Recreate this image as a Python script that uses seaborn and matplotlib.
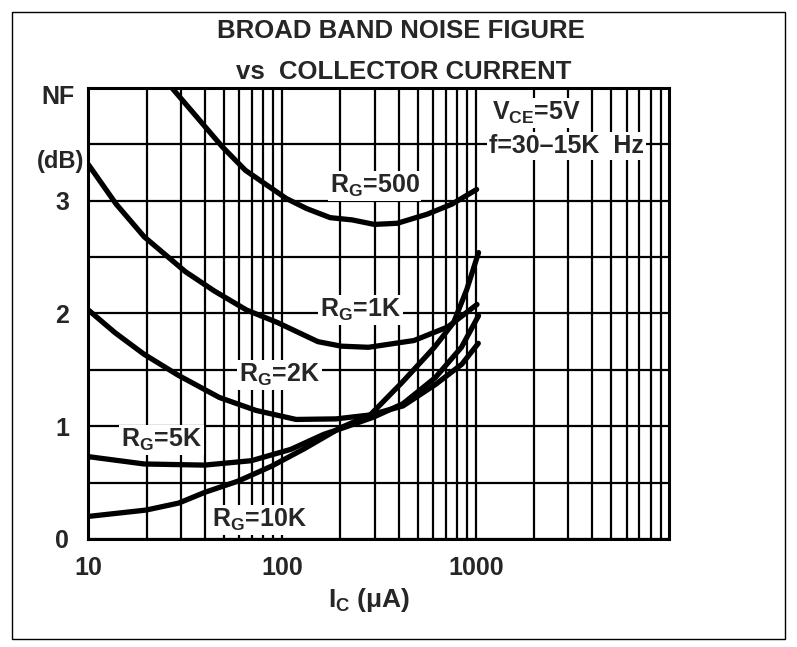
import numpy as np
import pandas as pd
import matplotlib.pyplot as plt
import seaborn as sns
from matplotlib.ticker import FixedLocator, LogLocator, MultipleLocator, NullFormatter
from matplotlib.patches import Rectangle

# Curve readings (collector current in uA, noise figure in dB)
ic_500 = [27, 49, 64.6, 105, 134, 177, 230, 299, 393, 560, 753, 1010]
nf_500 = [4.0, 3.48, 3.27, 3.02, 2.93, 2.85, 2.83, 2.79, 2.80, 2.88, 2.97, 3.10]

ic_1k = [10, 13.9, 19.4, 31.7, 44.6, 65.6, 94.5, 153, 202, 279, 479, 716, 1014]
nf_1k = [3.32, 2.97, 2.68, 2.37, 2.20, 2.03, 1.92, 1.75, 1.71, 1.70, 1.76, 1.88, 2.08]

ic_2k = [10, 13.7, 19.3, 29.2, 47.4, 73.3, 118, 190, 285, 421, 619, 847, 1030]
nf_2k = [2.03, 1.83, 1.64, 1.45, 1.255, 1.14, 1.06, 1.065, 1.10, 1.18, 1.37, 1.55, 1.735]

ic_5k = [10, 19.4, 39.7, 69.3, 111, 164, 208, 296, 421, 617, 843, 1033]
nf_5k = [0.73, 0.665, 0.655, 0.694, 0.795, 0.928, 0.987, 1.08, 1.20, 1.43, 1.70, 1.98]

ic_10k = [10, 19.8, 29.2, 40.1, 59.2, 88.3, 130, 200, 285, 417, 611, 768, 897, 1033]
nf_10k = [0.20, 0.256, 0.318, 0.415, 0.513, 0.646, 0.80, 0.986, 1.10, 1.39, 1.70, 1.92, 2.21, 2.54]

x_ticks = [10, 100, 1000]
x_tick_labels = ['10', '100', '1000']
y_ticks = [0, 1, 2, 3]

curve_labels = [r'R$_G$=500', r'R$_G$=1K', r'R$_G$=2K', r'R$_G$=5K', r'R$_G$=10K']

sns.set_theme(style="white")
plt.rcParams['font.family'] = ['Liberation Sans', 'DejaVu Sans']
plt.rcParams['font.weight'] = 'bold'
plt.rcParams['mathtext.fontset'] = 'custom'
plt.rcParams['mathtext.rm'] = 'Liberation Sans:bold'
plt.rcParams['mathtext.bf'] = 'Liberation Sans:bold'
plt.rcParams['mathtext.it'] = 'Liberation Sans:bold'
plt.rcParams['mathtext.default'] = 'bf'

fig = plt.figure(figsize=(7.97, 6.47), dpi=100)
ax = fig.add_axes([0.111, 0.167, 0.729, 0.697])

curves = [(ic_500, nf_500), (ic_1k, nf_1k), (ic_2k, nf_2k), (ic_5k, nf_5k), (ic_10k, nf_10k)]
for ic, nf in curves:
    df = pd.DataFrame({'Ic': ic, 'NF': nf})
    sns.lineplot(data=df, x='Ic', y='NF', ax=ax, color='black', lw=3.8,
                 sort=False, estimator=None, zorder=3)

ax.set_xscale('log')
ax.set_xlim(10, 10000)
ax.set_ylim(0, 4)
ax.xaxis.set_major_locator(FixedLocator(x_ticks))
ax.set_xticklabels(x_tick_labels)
ax.xaxis.set_minor_locator(LogLocator(base=10, subs=np.arange(2, 10)))
ax.xaxis.set_minor_formatter(NullFormatter())
ax.set_yticks(y_ticks)
ax.set_yticklabels([str(v) for v in y_ticks])
ax.yaxis.set_minor_locator(MultipleLocator(0.5))
ax.grid(which='both', color='black', lw=1.6)
ax.set_axisbelow(True)
ax.tick_params(axis='x', which='both', length=0, labelsize=18, pad=12)
ax.tick_params(axis='y', which='both', length=0, labelsize=18, pad=14)
ax.set_xlabel('')
ax.set_ylabel('')
for s in ax.spines.values():
    s.set_color('black')
    s.set_linewidth(2.2)

# curve labels (white box hides grid behind text)
label_pos = [(0.415, 0.768), (0.399, 0.492), (0.259, 0.348), (0.0555, 0.205), (0.212, 0.026)]
for txt, (u, v) in zip(curve_labels, label_pos):
    ax.text(u, v, txt, transform=ax.transAxes, fontsize=18, ha='left', va='baseline',
            zorder=4, bbox=dict(facecolor='white', edgecolor='none', pad=1.5))

ax.text(0.695, 0.93, r'V$_{CE}$=5V', transform=ax.transAxes, fontsize=18,
        ha='left', va='baseline', zorder=4,
        bbox=dict(facecolor='white', edgecolor='none', pad=1.5))
ax.text(0.689, 0.855, 'f=30\u201315K  Hz', transform=ax.transAxes, fontsize=18,
        ha='left', va='baseline', zorder=4,
        bbox=dict(facecolor='white', edgecolor='none', pad=1.5))

fig.text(0.503, 0.952, 'BROAD BAND NOISE FIGURE', fontsize=18.5, ha='center', va='center')
fig.text(0.507, 0.889, 'vs  COLLECTOR CURRENT', fontsize=18.5, ha='center', va='center')
fig.text(0.073, 0.850, 'NF', fontsize=18, ha='center', va='center')
fig.text(0.0765, 0.750, '(dB)', fontsize=17, ha='center', va='center')
fig.text(0.463, 0.073, r'I$_C$ ($\mathregular{\mu}$A)', fontsize=19, ha='center', va='center')

fig.patches.append(Rectangle((0.015, 0.012), 0.97, 0.97, transform=fig.transFigure,
                             fill=False, edgecolor='black', lw=1.0))

fig.savefig('out.png', dpi=100)
